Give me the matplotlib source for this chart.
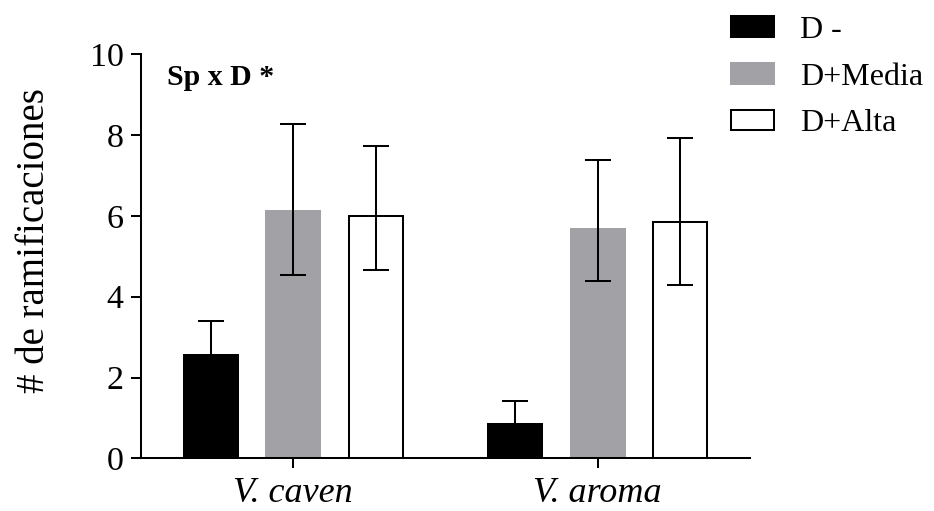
import matplotlib
matplotlib.use("Agg")
import matplotlib.pyplot as plt
import numpy as np

# Data: mean number of branches per species and treatment
species = ["V. caven", "V. aroma"]
treatments = ["D -", "D+Media", "D+Alta"]
means = {
    "D -": [2.56, 0.86],
    "D+Media": [6.12, 5.68],
    "D+Alta": [6.00, 5.85],
}
err_low = {
    "D -": [0.84, 0.56],
    "D+Media": [1.58, 1.30],
    "D+Alta": [1.34, 1.55],
}
err_high = {
    "D -": [0.84, 0.56],
    "D+Media": [2.15, 1.70],
    "D+Alta": [1.72, 2.09],
}
y_ticks = [0, 2, 4, 6, 8, 10]
annotation = "Sp x D *"

plt.rcParams["font.family"] = ["Liberation Serif", "DejaVu Serif"]

fig = plt.figure(figsize=(9.34, 5.11), dpi=100)
ax = fig.add_axes([141 / 934, 52.7 / 511, 609 / 934, 404 / 511])

lw = 1.45
styles = {
    "D -": dict(color="black", edgecolor="black"),
    "D+Media": dict(color="#a2a2a6", edgecolor="#a2a2a6"),
    "D+Alta": dict(color="white", edgecolor="black"),
}
offsets = [-0.271, 0.0, 0.271]
width = 0.177
x = np.arange(len(species))

handles = []
for off, t in zip(offsets, treatments):
    b = ax.bar(x + off, means[t], width, linewidth=lw, zorder=2, label=t, **styles[t])
    handles.append(b)
    ax.errorbar(x + off, means[t], yerr=[err_low[t], err_high[t]], fmt="none",
                ecolor="black", elinewidth=lw, capsize=9.7, capthick=lw, zorder=3)

ax.set_xlim(-0.5, 1.5)
ax.set_ylim(0, 10)
ax.set_yticks(y_ticks)
ax.set_xticks(x)
ax.set_xticklabels(species, fontstyle="italic", fontsize=26)
ax.tick_params(axis="y", labelsize=24.5, length=7, width=lw, pad=5.5, direction="out")
ax.tick_params(axis="x", length=7, width=lw, pad=6.5, direction="out")
for s in ["top", "right"]:
    ax.spines[s].set_visible(False)
for s in ["left", "bottom"]:
    ax.spines[s].set_linewidth(lw)

ax.set_ylabel("# de ramificaciones", fontsize=28)
ax.yaxis.set_label_coords(-0.145, 0.54)

ax.text(0.042, 0.924, annotation, transform=ax.transAxes, fontsize=21.5,
        fontweight="bold", va="baseline", ha="left")

fig.legend(handles=handles, labels=treatments, loc="upper left",
           bbox_to_anchor=(731 / 934, 1 - 16 / 511), frameon=False, fontsize=23,
           handlelength=1.34, handleheight=0.62, handletextpad=0.82,
           labelspacing=0.55, borderpad=0, borderaxespad=0)

fig.savefig("out.png", dpi=100)
